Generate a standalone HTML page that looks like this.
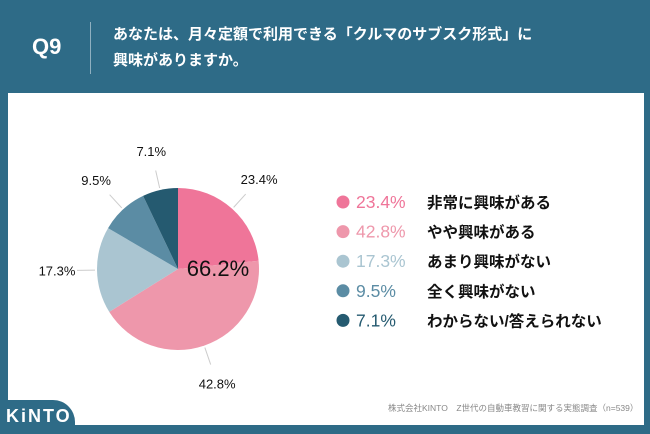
<!DOCTYPE html>
<html><head><meta charset="utf-8"><style>
body{margin:0;width:650px;height:434px;background:#2e6b87;position:relative;overflow:hidden;font-family:"Liberation Sans","Noto Sans CJK JP",sans-serif}
#card{position:absolute;left:8px;top:93px;width:636px;height:332px;background:#fff}
#q{position:absolute;left:32px;top:34px;color:#fff;font-size:22px;font-weight:bold}
#div{position:absolute;left:90px;top:22px;width:1px;height:52px;background:#8fb0c0}
#title{position:absolute;left:113px;top:22px;color:#fff;font-size:15px;font-weight:bold;line-height:26px}
#tab{position:absolute;left:0;top:400px;width:75px;height:34px;background:#2e6b87;border-top-right-radius:22px}
#logo{position:absolute;left:6px;top:406px;color:#fff;font-size:18px;font-weight:bold;letter-spacing:2px}
#src{position:absolute;left:388px;top:402px;font-size:8.5px;color:#888;white-space:nowrap}
</style></head><body>
<div id="q">Q9</div>
<div id="div"></div>
<div id="title">あなたは、月々定額で利用できる「クルマのサブスク形式」に<br>興味がありますか。</div>
<div id="card"></div>
<svg id="chart" width="650" height="434" style="position:absolute;left:0;top:0"></svg>
<div id="tab"></div>
<div id="logo">KiNTO</div>
<div id="src">株式会社KINTO　Z世代の自動車教習に関する実態調査（n=539）</div>
<script>
const categories=["非常に興味がある","やや興味がある","あまり興味がない","全く興味がない","わからない/答えられない"];
const values=[23.4,42.8,17.3,9.5,7.1];
const colors=["#ef7599","#ee97ab","#aac5d1","#5b8ca4","#255a70"];
const centerLabel="66.2%";
const svg=document.getElementById('chart');
const NS="http://www.w3.org/2000/svg";
const cx=178,cy=269,r=81;
const total=values.reduce((a,b)=>a+b,0);
function pt(a,rr){return [cx+rr*Math.sin(a),cy-rr*Math.cos(a)];}
let a0=0;
values.forEach((v,i)=>{
  const a1=a0+v/total*2*Math.PI;
  const p0=pt(a0,r),p1=pt(a1,r);
  const large=(a1-a0)>Math.PI?1:0;
  const path=document.createElementNS(NS,'path');
  path.setAttribute('d',`M${cx},${cy}L${p0[0]},${p0[1]}A${r},${r} 0 ${large} 1 ${p1[0]},${p1[1]}Z`);
  path.setAttribute('fill',colors[i]);
  
  
  svg.appendChild(path);
  const m=(a0+a1)/2;
  const l0=pt(m,r+2),l1=pt(m,r+20);
  const ln=document.createElementNS(NS,'line');
  ln.setAttribute('x1',l0[0]);ln.setAttribute('y1',l0[1]);ln.setAttribute('x2',l1[0]);ln.setAttribute('y2',l1[1]);
  ln.setAttribute('stroke','#ccc');
  
  
  svg.appendChild(ln);
  const lp=pt(m,r+40);
  const t=document.createElementNS(NS,'text');
  t.setAttribute('x',lp[0]);t.setAttribute('y',lp[1]+5);
  t.setAttribute('text-anchor','middle');t.setAttribute('font-size','13');t.setAttribute('fill','#111');
  t.textContent=v.toFixed(1)+'%';
  
  
  svg.appendChild(t);
  const y=202+i*29.6;
  const c=document.createElementNS(NS,'circle');
  c.setAttribute('cx',343);c.setAttribute('cy',y);c.setAttribute('r',6.5);c.setAttribute('fill',colors[i]);
  
  
  svg.appendChild(c);
  const tp=document.createElementNS(NS,'text');
  tp.setAttribute('x',356);tp.setAttribute('y',y+6);tp.setAttribute('font-size','17.5');tp.setAttribute('fill',colors[i]);
  tp.textContent=v.toFixed(1)+'%';
  
  
  svg.appendChild(tp);
  const tl=document.createElementNS(NS,'text');
  tl.setAttribute('x',427);tl.setAttribute('y',y+6);tl.setAttribute('font-size','15.5');tl.setAttribute('font-weight','bold');tl.setAttribute('fill','#111');
  tl.textContent=categories[i];
  
  
  svg.appendChild(tl);
  a0=a1;
});
const ct=document.createElementNS(NS,'text');
ct.setAttribute('x',218);ct.setAttribute('y',276);ct.setAttribute('text-anchor','middle');ct.setAttribute('font-size','22');ct.setAttribute('fill','#111');
ct.textContent=centerLabel;


svg.appendChild(ct);
</script>
</body></html>
